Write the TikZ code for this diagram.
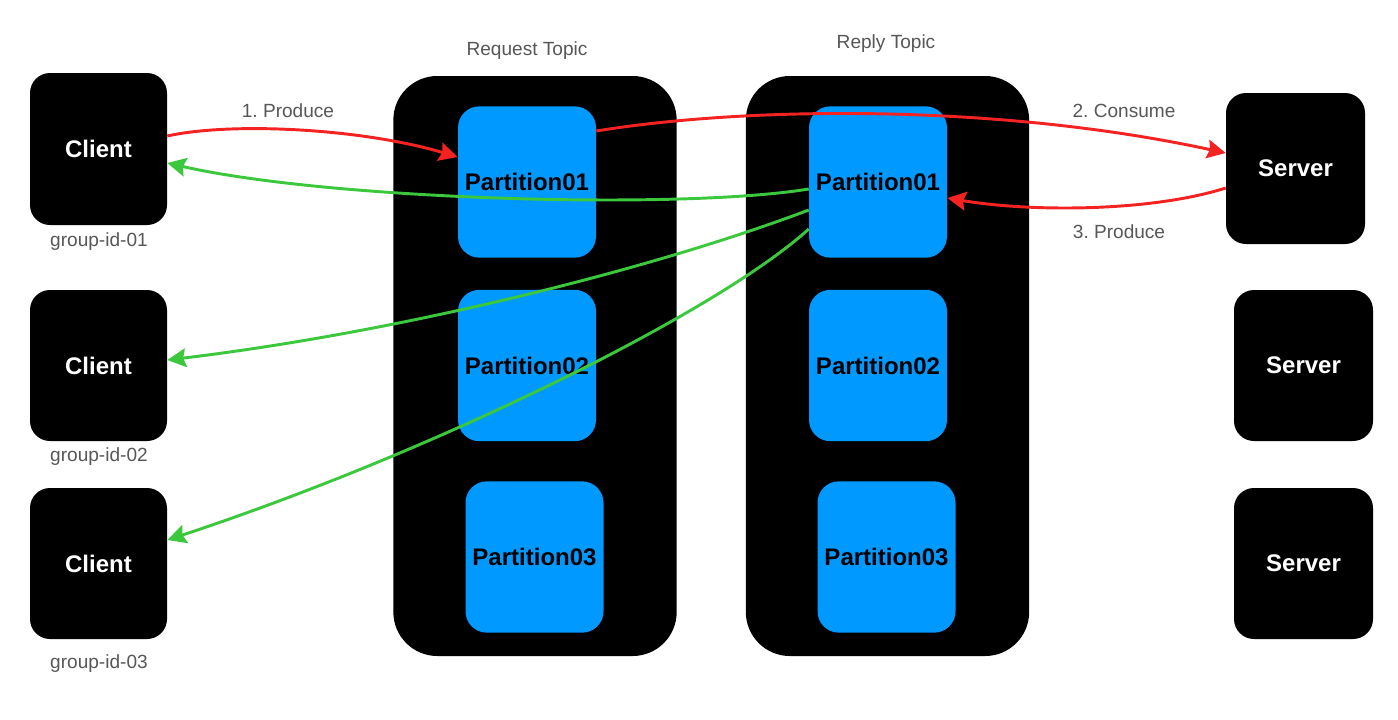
\documentclass[tikz,border=0pt]{standalone}
\usepackage{fontspec}
\setmainfont{Liberation Sans}
\usetikzlibrary{arrows.meta}
\definecolor{pblue}{HTML}{0099FF}
\definecolor{ared}{HTML}{F52222}
\definecolor{agreen}{HTML}{3CC83C}
\definecolor{lgray}{HTML}{575757}
\frenchspacing
\begin{document}
\begin{tikzpicture}[x=0.75pt,y=-0.75pt,
  blackbox/.style={fill=black, rounded corners=15pt, text=white, inner sep=0pt,
    font=\bfseries\fontsize{18}{21}\selectfont, minimum width=102.75pt, minimum height=113.25pt},
  topicbox/.style={fill=black, rounded corners=33pt, inner sep=0pt, minimum width=212.5pt, minimum height=435pt},
  partbox/.style={fill=pblue, rounded corners=16pt, text=black, inner sep=0pt,
    font=\bfseries\fontsize{18}{21}\selectfont, minimum width=103.5pt, minimum height=113.5pt},
  lbl/.style={text=lgray, font=\fontsize{14.3}{16}\selectfont, inner sep=0pt},
  redarrow/.style={draw=ared, line width=2.2pt, -{Stealth[length=14pt,width=14pt,inset=2pt]}},
  greenarrow/.style={draw=agreen, line width=2.2pt, -{Stealth[length=14pt,width=14pt,inset=2pt]}}]
\useasboundingbox[fill=white] (0,0) rectangle (1398,719);

% topics
\node[topicbox] (rt) at (535,366) {};
\node[topicbox] (pt) at (887.5,366) {};
\node[lbl] (rtl) at (527,51) {Request Topic};
\node[lbl] (ptl) at (886,44) {Reply Topic};

% request partitions
\node[partbox] (q1) at (527,182) {Partition01};
\node[partbox] (q2) at (527,365.5) {Partition02};
\node[partbox] (q3) at (534.5,557) {Partition03};
% reply partitions
\node[partbox] (a1) at (878,182) {Partition01};
\node[partbox] (a2) at (878,365.5) {Partition02};
\node[partbox] (a3) at (886.5,557) {Partition03};

% clients
\node[blackbox, minimum height=114pt] (c1) at (98.5,149) {Client};
\node[blackbox] (c2) at (98.5,365.5) {Client};
\node[blackbox] (c3) at (98.5,563.5) {Client};
\node[lbl] (g1) at (99,242) {group-id-01};
\node[lbl] (g2) at (99,457) {group-id-02};
\node[lbl] (g3) at (99,664) {group-id-03};

% servers
\node[blackbox, minimum width=104.25pt] (s1) at (1295.5,168.5) {Server};
\node[blackbox, minimum width=104.25pt] (s2) at (1303.5,365.5) {Server};
\node[blackbox, minimum width=104.25pt] (s3) at (1303.5,563.5) {Server};

% labels of arrows
\node[lbl] (l1) at (288,111) {1. Produce};
\node[lbl] (l2) at (1124,111) {2. Consume};
\node[lbl] (l3) at (1119,232) {3. Produce};

% arrows
\draw[redarrow] ([yshift=9.75pt]c1.east) .. controls (230,122) and (360,128) .. ([yshift=18.75pt]q1.west);
\draw[redarrow] ([yshift=38.25pt]q1.east) .. controls (750,106) and (1000,104) .. ([yshift=11.625pt]s1.west);
\draw[redarrow] ([yshift=-14.625pt]s1.west) .. controls (1150,212) and (1030,212) .. ([yshift=-12pt]a1.east);
\draw[greenarrow] ([yshift=-5.25pt]a1.west) .. controls (680,210) and (330,200) .. ([yshift=-10.5pt]c1.east);
\draw[greenarrow] ([yshift=-21pt]a1.west) .. controls (650,270) and (400,332) .. ([yshift=4.125pt]c2.east);
\draw[greenarrow] ([yshift=-35.25pt]a1.west) .. controls (720,310) and (440,450) .. ([yshift=17.625pt]c3.east);
\end{tikzpicture}
\end{document}
